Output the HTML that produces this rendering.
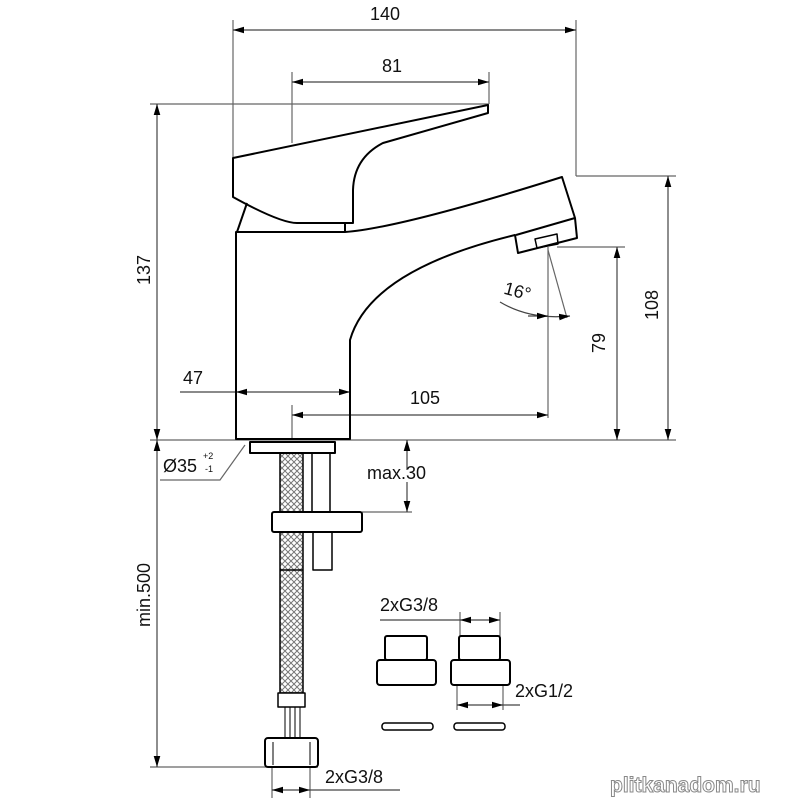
<!DOCTYPE html>
<html><head><meta charset="utf-8"><style>
html,body{margin:0;padding:0;background:#fff;}
svg{display:block}
text{font-family:"Liberation Sans",sans-serif;fill:#111}
</style></head><body>
<svg width="800" height="800" viewBox="0 0 800 800" xmlns="http://www.w3.org/2000/svg">
<defs>
<marker id="a" viewBox="0 0 10 6" refX="10" refY="3" markerWidth="11" markerHeight="7" orient="auto-start-reverse" markerUnits="userSpaceOnUse"><path d="M0,0L10,3L0,6z" fill="#000"/></marker>
<pattern id="br" width="6" height="6" patternUnits="userSpaceOnUse"><path d="M0,0L6,6M6,0L0,6" stroke="#777" stroke-width="1"/></pattern>
</defs>
<g stroke="#666" stroke-width="1.2" fill="none">
<line x1="233" y1="20" x2="233" y2="158"/>
<line x1="576" y1="20" x2="576" y2="176"/>
<line x1="292" y1="72" x2="292" y2="143"/>
<line x1="489" y1="72" x2="489" y2="104"/>
<line x1="150" y1="104" x2="489" y2="104"/>
<line x1="150" y1="440" x2="676" y2="440"/>
<line x1="576" y1="176" x2="676" y2="176"/>
<line x1="557" y1="247" x2="625" y2="247"/>
<line x1="548" y1="247" x2="548" y2="418"/>
<line x1="548" y1="250" x2="567" y2="318"/>
<line x1="292" y1="405" x2="292" y2="440"/>
<line x1="362" y1="512" x2="412" y2="512"/>
<line x1="150" y1="767" x2="318" y2="767"/>
<line x1="272" y1="767" x2="272" y2="798"/>
<line x1="310" y1="767" x2="310" y2="798"/>
<line x1="460" y1="612" x2="460" y2="636"/>
<line x1="500" y1="612" x2="500" y2="636"/>
<line x1="457" y1="685" x2="457" y2="710"/>
<line x1="503" y1="685" x2="503" y2="710"/>
<polyline points="160,480 220,480 245,445"/>
</g>
<g stroke="#444" stroke-width="1.2" fill="none">
<line x1="233" y1="30" x2="576" y2="30" marker-start="url(#a)" marker-end="url(#a)"/>
<line x1="292" y1="82" x2="489" y2="82" marker-start="url(#a)" marker-end="url(#a)"/>
<line x1="157" y1="104" x2="157" y2="440" marker-start="url(#a)" marker-end="url(#a)"/>
<line x1="668" y1="176" x2="668" y2="440" marker-start="url(#a)" marker-end="url(#a)"/>
<line x1="617" y1="247" x2="617" y2="440" marker-start="url(#a)" marker-end="url(#a)"/>
<line x1="180" y1="392" x2="236" y2="392"/>
<line x1="236" y1="392" x2="350" y2="392" marker-start="url(#a)" marker-end="url(#a)"/>
<line x1="292" y1="415" x2="548" y2="415" marker-start="url(#a)" marker-end="url(#a)"/>
<path d="M500,302 Q530,320 570,316" marker-end="url(#a)"/>
<line x1="528" y1="316" x2="548" y2="316" marker-end="url(#a)"/>
<line x1="157" y1="440" x2="157" y2="767" marker-start="url(#a)" marker-end="url(#a)"/>
<line x1="407" y1="470" x2="407" y2="440" marker-end="url(#a)"/>
<line x1="407" y1="482" x2="407" y2="512" marker-end="url(#a)"/>
<line x1="380" y1="620" x2="460" y2="620"/>
<line x1="460" y1="620" x2="500" y2="620" marker-start="url(#a)" marker-end="url(#a)"/>
<line x1="457" y1="705" x2="503" y2="705" marker-start="url(#a)" marker-end="url(#a)"/>
<line x1="503" y1="705" x2="520" y2="705"/>
<line x1="272" y1="790" x2="310" y2="790" marker-start="url(#a)" marker-end="url(#a)"/>
<line x1="310" y1="790" x2="400" y2="790"/>
</g>
<g stroke="#000" stroke-width="2" fill="none" stroke-linejoin="round">
<path d="M233,158 L488,105 L488,113 L383,143 Q354,158 353,190 L353,223 L297,223 Q280,223 233,197 Z"/>
<path d="M247,203 L237,232"/>
<path d="M236,232 L345,232 Q400,228 562,177 L575,218 L577,238 L518,253 L515,235 Q370,270 350,340 L350,439 L236,439 Z"/>
<path d="M345,232 L345,223"/>
<path d="M575,218 L516,235"/>
<path d="M535,239 L557,234 L558,244 L537,248 Z" stroke-width="1.5"/>
<rect x="280" y="453" width="23" height="240" fill="url(#br)" stroke-width="1.5"/>
<line x1="280" y1="570" x2="303" y2="570" stroke-width="1.5"/>
<rect x="250" y="442" width="85" height="11" fill="#fff"/>
<rect x="312" y="453" width="18" height="59" stroke-width="1.5"/>
<rect x="313" y="532" width="19" height="38" stroke-width="1.5"/>
<rect x="272" y="512" width="90" height="20" rx="2" fill="#fff"/>
<rect x="278" y="693" width="27" height="14" stroke-width="1.5" fill="#fff"/>
<g stroke-width="1"><line x1="285" y1="707" x2="285" y2="738"/><line x1="290" y1="707" x2="290" y2="738"/><line x1="295" y1="707" x2="295" y2="738"/><line x1="300" y1="707" x2="300" y2="738"/></g>
<rect x="265" y="738" width="53" height="29" rx="3"/>
<line x1="273" y1="742" x2="273" y2="765" stroke-width="1"/><line x1="310" y1="742" x2="310" y2="765" stroke-width="1"/>
<rect x="385" y="636" width="42" height="24" rx="2"/>
<rect x="377" y="660" width="59" height="25" rx="3"/>
<rect x="459" y="636" width="41" height="24" rx="2"/>
<rect x="451" y="660" width="59" height="25" rx="3"/>
<rect x="382" y="723" width="51" height="7" rx="3" stroke-width="1.5"/>
<rect x="454" y="723" width="51" height="7" rx="3" stroke-width="1.5"/>
</g>
<g font-size="18">
<text x="385" y="20" text-anchor="middle">140</text>
<text x="392" y="72" text-anchor="middle">81</text>
<text x="150" y="270" text-anchor="middle" transform="rotate(-90 150 270)">137</text>
<text x="658" y="305" text-anchor="middle" transform="rotate(-90 658 305)">108</text>
<text x="605" y="343" text-anchor="middle" transform="rotate(-90 605 343)">79</text>
<text x="516" y="297" text-anchor="middle" transform="rotate(15 516 297)">16°</text>
<text x="193" y="384" text-anchor="middle">47</text>
<text x="425" y="404" text-anchor="middle">105</text>
<text x="163" y="472">Ø35</text>
<text x="203" y="459" font-size="9">+2</text>
<text x="205" y="472" font-size="9">-1</text>
<text x="367" y="479">max.30</text>
<text x="150" y="595" text-anchor="middle" transform="rotate(-90 150 595)">min.500</text>
<text x="380" y="611">2xG3/8</text>
<text x="515" y="697">2xG1/2</text>
<text x="325" y="783">2xG3/8</text>
</g>
<text x="610" y="792" font-size="21" font-weight="bold" style="fill:#fff;stroke:#888;stroke-width:1">plitkanadom.ru</text>
</svg>
</body></html>
